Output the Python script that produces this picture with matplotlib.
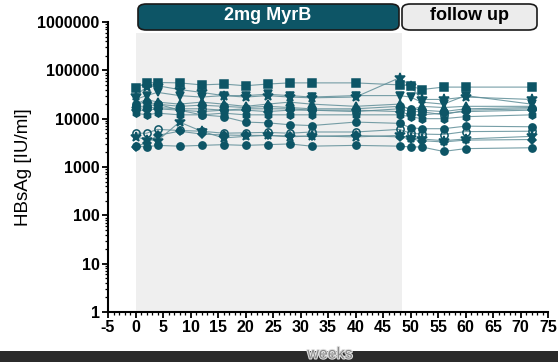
import matplotlib
matplotlib.use("Agg")
import matplotlib.pyplot as plt
from matplotlib.patches import FancyBboxPatch, Rectangle
from matplotlib.ticker import MultipleLocator, LogLocator, NullFormatter, FixedLocator
import matplotlib.patheffects as pe

plt.rcParams['font.family'] = ['Liberation Sans', 'DejaVu Sans']
plt.rcParams['axes.unicode_minus'] = False

# weeks of sampling
weeks = [0, 2, 4, 8, 12, 16, 20, 24, 28, 32, 40, 48, 50, 52, 56, 60, 72]

# HBsAg [IU/ml] per patient
p_square = [44000, 55000, 56000, 55000, 50000, 52000, 48000, 52000, 55000, 55000, 55000, 50000, 48000, 40000, 45000, 45000, 45000]
p_star_hi = [30000, 45000, 48000, 40000, 35000, 30000, 28000, 30000, 28000, 27000, 28000, 70000, 48000, 25000, 25000, 28000, 25000]
p_vtri = [25000, 30000, 35000, 30000, 28000, 30000, 30000, 32000, 30000, 28000, 30000, 30000, 28000, 22000, 20000, 30000, 20000]
p_tri = [20000, 25000, 22000, 20000, 22000, 20000, 18000, 20000, 22000, 20000, 18000, 20000, 15000, 18000, 17000, 18000, 18000]
p_circ = [18000, 18000, 20000, 18000, 19000, 18000, 17000, 18000, 17000, 16000, 16000, 18000, 16000, 15000, 14000, 16000, 17000]
p_diam = [15000, 15000, 16000, 15000, 14000, 15000, 15000, 14000, 15000, 15000, 15000, 14000, 12000, 12000, 13000, 14000, 15000]
p_ocirc = [16000, 17000, 17000, 16000, 16000, 15000, 16000, 16000, 16000, 15000, 14000, 16000, 14000, 14000, 12000, 15000, 16000]
p_hex = [13000, 12000, 13000, 12000, 12000, 13000, 12000, 12000, 12000, 12000, 12000, 12000, 11000, 10000, 10000, 11000, 12000]
p_circ_dec = [20000, 22000, 20000, 15000, 12000, 11000, 8500, 8200, 7500, 7200, 8500, 8000, 6500, 6200, 6200, 7000, 6800]
p_ocirc_lo = [5000, 5000, 6000, 5700, 5500, 5000, 5100, 5200, 5000, 5300, 5300, 6000, 5000, 4800, 4700, 5400, 5500]
p_star_lo = [4200, 3700, 3500, 8500, 5500, 4000, 4300, 4500, 4200, 4400, 4200, 4500, 4000, 3800, 3500, 3800, 4300]
p_diam_lo = [2600, 3200, 4500, 5500, 4800, 4600, 4500, 4500, 4400, 4300, 4500, 4200, 3800, 3500, 3300, 3600, 3700]
p_circ_lo = [2700, 2600, 2800, 2700, 2800, 2900, 2800, 2900, 3000, 2700, 2800, 2700, 2600, 2600, 2100, 2400, 2500]

patients = [
    (p_square, 's', True), (p_star_hi, '*', True), (p_vtri, 'v', True),
    (p_tri, '^', True), (p_circ, 'o', True), (p_diam, 'D', True),
    (p_ocirc, 'o', False), (p_hex, 'h', True), (p_circ_dec, 'o', True),
    (p_ocirc_lo, 'o', False), (p_star_lo, '*', True), (p_diam_lo, 'D', True),
    (p_circ_lo, 'o', True),
]

teal = '#0d5566'
line_c = '#5f8e98'

fig = plt.figure(figsize=(5.58, 3.62), dpi=100)
ax = fig.add_axes([108 / 558, 1 - 312 / 362, 440 / 558, 290 / 362])

# treatment period shading
ax.add_patch(Rectangle((0, 1), 48.5, 6.0e5 - 1, facecolor='#efefef', edgecolor='none', zorder=0))

for vals, mk, filled in patients:
    ms = 7 if mk == '*' else 5.2
    if mk == 'D':
        ms = 4.3
    ax.plot(weeks, vals, color=line_c, lw=0.8, alpha=0.85, zorder=2)
    ax.plot(weeks, vals, ls='none', marker=mk, ms=ms,
            mfc=teal if filled else 'none', mec=teal, mew=1.1, zorder=3)

ax.set_yscale('log')
ax.set_ylim(1, 1e6)
ax.set_xlim(-5, 75)
ax.xaxis.set_major_locator(MultipleLocator(5))
ax.xaxis.set_minor_locator(MultipleLocator(1))
ax.yaxis.set_major_locator(FixedLocator([1, 10, 100, 1000, 10000, 100000, 1000000]))
ax.set_yticklabels(['1', '10', '100', '1000', '10000', '100000', '1000000'])
ax.yaxis.set_minor_locator(LogLocator(base=10, subs=range(2, 10)))
ax.yaxis.set_minor_formatter(NullFormatter())

for s in ['top', 'right']:
    ax.spines[s].set_visible(False)
for s in ['left', 'bottom']:
    ax.spines[s].set_linewidth(1.5)
ax.tick_params(which='major', length=4, width=1.3, labelsize=11.5, pad=2)
ax.tick_params(which='minor', length=2, width=0.9)
for lab in ax.get_xticklabels() + ax.get_yticklabels():
    lab.set_fontweight('bold')
ax.set_ylabel('HBsAg [IU/ml]', fontsize=13.5, labelpad=4)

# phase boxes above the plot
def px(x, y):
    return x / 558, 1 - y / 362

b1 = FancyBboxPatch(px(138, 30), (399 - 138) / 558, 26 / 362,
                    boxstyle='round,pad=0,rounding_size=0.015', transform=fig.transFigure,
                    facecolor=teal, edgecolor='#1a1a1a', lw=1.2)
b2 = FancyBboxPatch(px(402, 30), (537 - 402) / 558, 26 / 362,
                    boxstyle='round,pad=0,rounding_size=0.015', transform=fig.transFigure,
                    facecolor='#ececec', edgecolor='#1a1a1a', lw=1.2)
fig.patches.extend([b1, b2])
fig.text(*px(268, 16), '2mg MyrB', color='white', fontsize=13, fontweight='bold', ha='center', va='center')
fig.text(*px(470, 16), 'follow up', color='black', fontsize=13, fontweight='bold', ha='center', va='center')

# dark strip at the bottom with the x label
fig.patches.append(Rectangle((0, 0), 1, 11 / 362, transform=fig.transFigure,
                             facecolor='#2b2b2b', edgecolor='none'))
fig.text(*px(330, 354), 'weeks', color='#8a8a8a', fontsize=11.5, ha='center', va='center',
         path_effects=[pe.withStroke(linewidth=1.5, foreground='#e0e0e0')])

fig.savefig('out.png', dpi=100)
